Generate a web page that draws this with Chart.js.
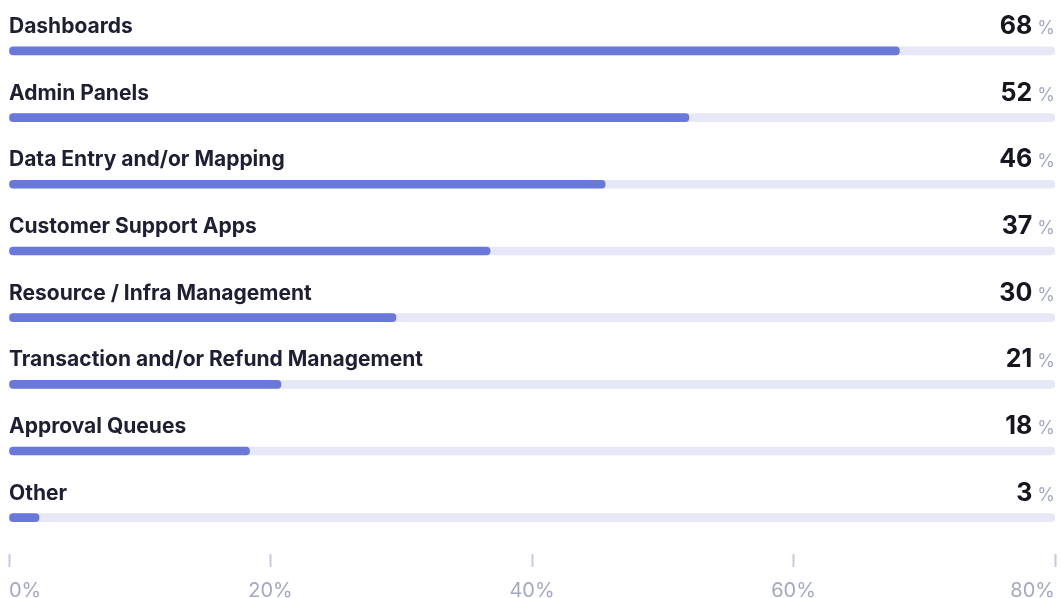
<!DOCTYPE html>
<html>
<head>
<meta charset="utf-8">
<script src="https://cdn.jsdelivr.net/npm/chart.js@4"></script>
<style>
  html, body { margin: 0; padding: 0; background: #fff; }
  canvas { display: block; }
</style>
</head>
<body>
<canvas id="useChart" width="1061" height="598"></canvas>
<script>
const categories = [
    'Dashboards',
    'Admin Panels',
    'Data Entry and/or Mapping',
    'Customer Support Apps',
    'Resource / Infra Management',
    'Transaction and/or Refund Management',
    'Approval Queues',
    'Other'
];
const shareValues = [68.1, 52.0, 45.6, 36.8, 29.6, 20.8, 18.4, 2.3];
const shareLabels = ['68', '52', '46', '37', '30', '21', '18', '3'];
const trackValues = [80, 80, 80, 80, 80, 80, 80, 80];
const tickValues = [0, 20, 40, 60, 80];

const FONT = 'Inter, "Noto Sans", sans-serif';

// labels above each bar and the value on the right
const rowText = {
    id: 'rowText',
    afterDatasetsDraw(chart) {
        const ctx = chart.ctx;
        const yScale = chart.scales.y;
        const area = chart.chartArea;
        ctx.save();
        ctx.textBaseline = 'alphabetic';
        categories.forEach((name, i) => {
            const y = yScale.getPixelForValue(i);

            ctx.font = '700 21px ' + FONT;
            ctx.fillStyle = '#1e1f33';
            ctx.textAlign = 'left';
            ctx.fillText(name, area.left, y - 18);

            ctx.font = '400 18px ' + FONT;
            ctx.fillStyle = '#a6a9c6';
            ctx.textAlign = 'right';
            ctx.fillText('%', area.right, y - 17);
            const pctW = ctx.measureText('%').width;

            ctx.font = '700 25px ' + FONT;
            ctx.fillStyle = '#15161f';
            ctx.fillText(shareLabels[i], area.right - pctW - 5, y - 17);
        });
        ctx.restore();
    }
};

function initChart() {
    const ctx = document.getElementById('useChart').getContext('2d');

    const data = {
        labels: categories,
        datasets: [{
            label: 'Share',
            data: shareValues,
            backgroundColor: '#6a79d9',
            grouped: false,
            barThickness: 8,
            borderRadius: 4,
            borderSkipped: false,
            order: 0
        }, {
            label: 'Track',
            data: trackValues,
            backgroundColor: '#e6e8f8',
            grouped: false,
            barThickness: 8,
            borderRadius: 4,
            borderSkipped: false,
            order: 1
        }]
    };

    const config = {
        type: 'bar',
        data: data,
        plugins: [rowText],
        options: {
            indexAxis: 'y',
            responsive: false,
            animation: false,
            devicePixelRatio: 1,
            layout: { padding: { left: 9, right: 6, top: 17.6, bottom: 0 } },
            plugins: {
                legend: { display: false },
                tooltip: { enabled: false }
            },
            scales: {
                y: {
                    type: 'category',
                    display: false,
                    offset: true
                },
                x: {
                    type: 'linear',
                    min: 0,
                    max: 80,
                    afterBuildTicks: scale => {
                        scale.ticks = tickValues.map(v => ({ value: v }));
                    },
                    afterFit: scale => { scale.height = 47; },
                    border: { display: false },
                    grid: {
                        drawOnChartArea: false,
                        tickLength: 22,
                        tickWidth: 2,
                        tickColor: '#c8cade',
                        tickBorderDash: [0, 3, 13, 6]
                    },
                    ticks: {
                        align: 'inner',
                        padding: 6,
                        color: '#a5a8c4',
                        font: { family: FONT, size: 20 },
                        callback: v => v + '%'
                    }
                }
            }
        }
    };

    new Chart(ctx, config);
}

document.addEventListener('DOMContentLoaded', () => {
    initChart();
});
</script>
</body>
</html>
